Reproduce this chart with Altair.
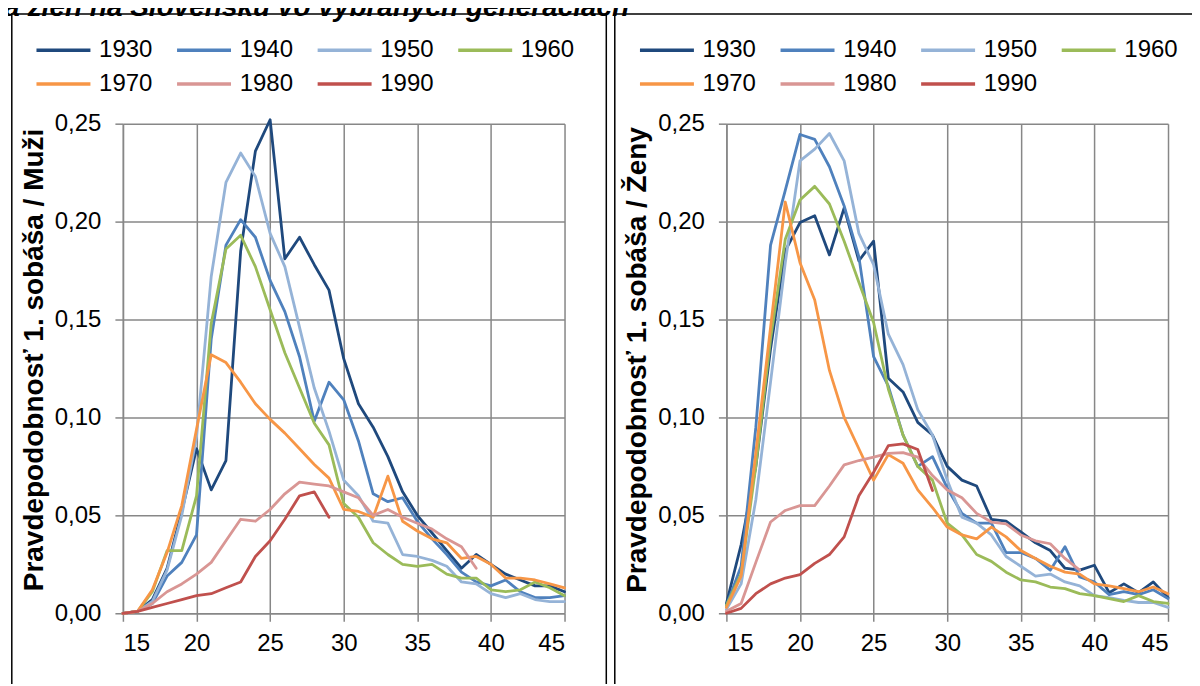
import altair as alt
import pandas as pd

ages = list(range(15, 46))
generations = ["1930", "1940", "1950", "1960", "1970", "1980", "1990"]
colors = ["#1F497D", "#4F81BD", "#95B3D7", "#9BBB59", "#F79646", "#D99694", "#C0504D"]

title_text = "a žien na Slovensku vo vybraných generáciách"
y_title_men = "Pravdepodobnosť 1. sobáša / Muži"
y_title_women = "Pravdepodobnosť 1. sobáša / Ženy"
x_ticks = [15, 20, 25, 30, 35, 40, 45]
y_ticks = [0.0, 0.05, 0.10, 0.15, 0.20, 0.25]

# Men (Muži), ages 15..45
men_1930 = [0.000, 0.001, 0.007, 0.023, 0.052, 0.084, 0.063, 0.078, 0.185, 0.236, 0.252, 0.181, 0.192, 0.178,
            0.165, 0.130, 0.107, 0.095, 0.080, 0.062, 0.050, 0.041, 0.032, 0.023, 0.030, 0.025, 0.020, 0.017,
            0.014, 0.014, 0.011]
men_1940 = [0.000, 0.001, 0.005, 0.019, 0.026, 0.040, 0.140, 0.188, 0.201, 0.192, 0.170, 0.154, 0.131, 0.098,
            0.118, 0.109, 0.088, 0.061, 0.057, 0.059, 0.047, 0.038, 0.030, 0.021, 0.016, 0.014, 0.017, 0.011,
            0.008, 0.008, 0.009]
men_1950 = [0.000, 0.001, 0.006, 0.022, 0.050, 0.090, 0.172, 0.220, 0.235, 0.223, 0.194, 0.177, 0.146, 0.115,
            0.093, 0.068, 0.060, 0.047, 0.046, 0.030, 0.029, 0.027, 0.024, 0.016, 0.015, 0.010, 0.008, 0.010,
            0.007, 0.006, 0.006]
men_1960 = [0.000, 0.001, 0.011, 0.032, 0.032, 0.060, 0.148, 0.186, 0.193, 0.177, 0.155, 0.133, 0.115, 0.097,
            0.086, 0.056, 0.049, 0.036, 0.030, 0.025, 0.024, 0.025, 0.020, 0.018, 0.018, 0.012, 0.011, 0.012,
            0.016, 0.013, 0.009]
men_1970 = [0.000, 0.001, 0.012, 0.031, 0.055, 0.094, 0.132, 0.128, 0.118, 0.107, 0.099, 0.092, 0.084, 0.076,
            0.069, 0.053, 0.052, 0.049, 0.070, 0.047, 0.042, 0.038, 0.036, 0.028, 0.029, 0.025, 0.018, 0.018,
            0.017, 0.015, 0.013]
men_1980 = [0.000, 0.001, 0.005, 0.011, 0.015, 0.020, 0.026, 0.037, 0.048, 0.047, 0.053, 0.061, 0.067, 0.066,
            0.065, 0.062, 0.059, 0.050, 0.053, 0.049, 0.046, 0.043, 0.038, 0.034, 0.023]
men_1990 = [0.000, 0.001, 0.003, 0.005, 0.007, 0.009, 0.010, 0.013, 0.016, 0.029, 0.037, 0.048, 0.060, 0.062,
            0.049]

# Women (Ženy), ages 15..45
women_1930 = [0.005, 0.035, 0.075, 0.135, 0.185, 0.1995, 0.203, 0.183, 0.207, 0.180, 0.190, 0.120, 0.113, 0.0975,
              0.091, 0.075, 0.068, 0.065, 0.048, 0.047, 0.0415, 0.036, 0.032, 0.023, 0.022, 0.0245, 0.0105, 0.015,
              0.0105, 0.016, 0.008]
women_1940 = [0.004, 0.024, 0.095, 0.188, 0.216, 0.2445, 0.242, 0.228, 0.208, 0.182, 0.131, 0.116, 0.091, 0.075,
              0.080, 0.064, 0.051, 0.046, 0.046, 0.031, 0.031, 0.028, 0.022, 0.034, 0.0185, 0.016, 0.0095, 0.011,
              0.0095, 0.012, 0.0075]
women_1950 = [0.002, 0.015, 0.058, 0.118, 0.179, 0.231, 0.237, 0.245, 0.231, 0.194, 0.178, 0.1425, 0.127, 0.104,
              0.091, 0.068, 0.049, 0.046, 0.040, 0.029, 0.024, 0.019, 0.020, 0.016, 0.014, 0.009, 0.008, 0.0066,
              0.0055, 0.0055, 0.003]
women_1960 = [0.004, 0.020, 0.075, 0.140, 0.191, 0.211, 0.218, 0.209, 0.190, 0.169, 0.1485, 0.1145, 0.091, 0.075,
              0.068, 0.046, 0.040, 0.030, 0.0265, 0.021, 0.017, 0.016, 0.0134, 0.0126, 0.010, 0.009, 0.0075, 0.006,
              0.009, 0.006, 0.005]
women_1970 = [0.003, 0.019, 0.082, 0.146, 0.210, 0.179, 0.160, 0.124, 0.100, 0.084, 0.068, 0.081, 0.0766, 0.063,
              0.054, 0.044, 0.040, 0.038, 0.044, 0.039, 0.032, 0.028, 0.024, 0.021, 0.020, 0.015, 0.014, 0.0126,
              0.011, 0.0134, 0.010]
women_1980 = [0.001, 0.005, 0.026, 0.0466, 0.0525, 0.055, 0.055, 0.065, 0.0758, 0.078, 0.0797, 0.0817, 0.082,
              0.0797, 0.0703, 0.063, 0.059, 0.051, 0.0466, 0.0457, 0.040, 0.037, 0.0355, 0.028, 0.022]
women_1990 = [0.000, 0.0025, 0.010, 0.015, 0.018, 0.0197, 0.0255, 0.030, 0.039, 0.060, 0.072, 0.0856, 0.0865,
              0.0836, 0.0627]

men = [men_1930, men_1940, men_1950, men_1960, men_1970, men_1980, men_1990]
women = [women_1930, women_1940, women_1950, women_1960, women_1970, women_1980, women_1990]

FONT = "Liberation Sans"
GRID = "#878787"


def to_long(series):
    rows = []
    for g, vals in zip(generations, series):
        for a, v in zip(ages, vals):
            rows.append({"age": a, "value": v, "gen": g})
    return pd.DataFrame(rows)


def panel(series, ytitle, frame_box):
    df = to_long(series)
    lines = alt.Chart(df).mark_line(strokeWidth=2.8, strokeJoin="round", strokeCap="round").encode(
        x=alt.X("age:Q",
                scale=alt.Scale(domain=[15, 45], nice=False, zero=False),
                axis=alt.Axis(values=x_ticks, title=None, format="d", labelPadding=10)),
        y=alt.Y("value:Q",
                scale=alt.Scale(domain=[0, 0.25], nice=False),
                axis=alt.Axis(values=y_ticks, title=ytitle, labelPadding=14,
                              labelExpr="replace(format(datum.value, '.2f'), '.', ',')",
                              titleX=-88.7, titleY=236, titleAngle=270,
                              titleBaseline="middle", titleAlign="center",
                              titleFontSize=28, titleFontWeight="bold")),
        color=alt.Color("gen:N",
                        scale=alt.Scale(domain=generations, range=colors),
                        legend=alt.Legend(title=None, orient="none", legendX=-75, legendY=-89.2,
                                          direction="horizontal", columns=4,
                                          symbolType="M-2,0H2", symbolSize=729, symbolStrokeWidth=3.5,
                                          symbolFillColor="transparent",
                                          labelFontSize=24, labelFont=FONT, labelColor="black",
                                          labelOffset=20.2, columnPadding=16.7, rowPadding=6,
                                          padding=0)),
    )
    x0, x1, y0, y1 = frame_box
    frame = alt.Chart(pd.DataFrame({"k": [0]})).mark_rect(
        fillOpacity=0, stroke="black", strokeWidth=1.5
    ).encode(x=alt.value(x0), x2=alt.value(x1), y=alt.value(y0), y2=alt.value(y1))
    return alt.layer(frame, lines).properties(width=442, height=490)


left = panel(men, y_title_men, (-111.2, 483.8, -109.8, 575.7))
right = panel(women, y_title_women, (-111.7, 470.3, -109.8, 575.7))

chart = alt.hconcat(left, right, spacing=162, bounds="flush").resolve_scale(color="independent").properties(
    title=alt.TitleParams(title_text, anchor="start", frame="group", fontSize=28, fontWeight="bold",
                          fontStyle="italic", font=FONT, color="black", offset=-3.5, dy=6.2, dx=-118.7),
    padding={"left": -4, "top": -14.5, "right": -6, "bottom": -17},
).configure_axis(
    labelFont=FONT, labelFontSize=24, labelColor="black",
    titleFont=FONT, titleColor="black",
    grid=True, gridColor=GRID, gridWidth=1.5,
    domainColor=GRID, domainWidth=1.5,
    tickColor=GRID, tickWidth=1.5, tickSize=8,
).configure_view(stroke="transparent")

chart.save("out.html", embed_options={"renderer": "svg", "actions": False})
